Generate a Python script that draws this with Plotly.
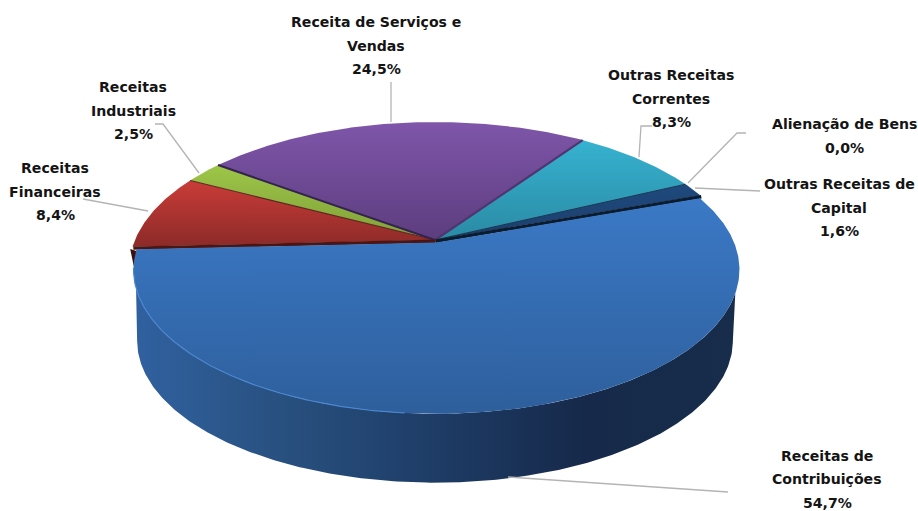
import numpy as np
import plotly.graph_objects as go

# ---- data ----
categories = ["Receitas de Contribuições", "Receitas Financeiras", "Receitas Industriais",
              "Receita de Serviços e Vendas", "Outras Receitas Correntes",
              "Alienação de Bens", "Outras Receitas de Capital"]
values = [54.7, 8.4, 2.5, 24.5, 8.3, 0.0, 1.6]
value_labels = ["54,7%", "8,4%", "2,5%", "24,5%", "8,3%", "0,0%", "1,6%"]
label_lines = [["Receitas de", "Contribuições"], ["Receitas", "Financeiras"], ["Receitas", "Industriais"],
               ["Receita de Serviços e", "Vendas"], ["Outras Receitas", "Correntes"],
               ["Alienação de Bens"], ["Outras Receitas de", "Capital"]]

# ---- styling / layout ----
W, H = 918, 511
top_colors = ["#3b79c6", "#c93c38", "#9dc648", "#7f56aa", "#36b2d0", "#1f497d", "#1f497d"]
bot_colors = ["#2e5f9c", "#8c2a28", "#7f9f38", "#5c3d7e", "#2a8aa4", "#1b3f6c", "#1b3f6c"]
wall_stops = [[0, "#30619f"], [0.25, "#28507f"], [0.5, "#1e3c66"], [0.75, "#16294a"], [1, "#172d4b"]]
label_pos = [(827, 455.5), (55, 168), (133, 87), (376, 22), (671, 75), (844, 124), (839, 184)]
line_gap = 23.5
leaders = [[(508, 477), (728, 492)],
           [(148, 211), (83, 199)],
           [(199, 173), (163, 124), (155, 124)],
           [(391, 122), (391, 82)],
           [(639, 157), (641, 126), (652, 126)],
           [(688, 183), (737, 133), (746, 133)],
           [(695, 188), (760, 191)]]
FONT = "DejaVu Sans"
FS = 14.1

# ---- projection ----
cx, cy, a, b, k = 435.0, 240.0, 300.0, 140.3, 0.189
start = -19.7
dep, shrink = 74.0, 0.975
blue_r = 0.992


def proj(th, r=1.0, base=False, off=(0, 0)):
    th = np.radians(th)
    X, Y = r * np.cos(th), r * np.sin(th)
    s = 1 / (1 - k * Y)
    sc = shrink if base else 1.0
    return (cx + off[0] + a * sc * X * s, cy + off[1] + (dep if base else 0) + b * sc * Y * s)


spans = np.array(values) / sum(values) * 360
bounds = start + np.concatenate([[0], np.cumsum(spans)])
fig = go.Figure()


def wedge(t0, t1, off=(0, 0), r=1.0):
    n = max(2, int(abs(t1 - t0) * 2))
    th = np.linspace(t0, t1, n)
    x, y = proj(th, r=r, off=off)
    ax, ay = proj(t0, r=0, off=off)
    return np.r_[ax, x, ax], np.r_[ay, y, ay]


blue_off = (1.5, 2.5)
mid_off = (0.75, 1.25)
# wall of the large slice: silhouette runs from the tangent points of the top face to those of the base
xt, yt = proj(np.linspace(20, 162, 300), r=blue_r, off=blue_off)
xb, yb = proj(np.linspace(169, 11, 300), base=True)
fig.add_trace(go.Scatter(x=np.r_[xt, xb], y=np.r_[yt, yb], mode="lines", fill="toself",
                         line=dict(width=0), fillgradient=dict(type="horizontal", colorscale=wall_stops),
                         hoverinfo="skip"))
# sliver of dark inner wall beside the red slice
xs0, ys0 = proj(bounds[1] - 0.5)
fig.add_trace(go.Scatter(x=[xs0 - 2, xs0 + 4, xs0 + 4], y=[ys0 + 1, ys0 + 3, ys0 + 30], mode="lines",
                         fill="toself", fillcolor="#3c0f0c", line=dict(width=0), hoverinfo="skip"))

# top faces
for i in [1, 2, 3, 4, 5, 6]:
    if values[i] <= 0:
        continue
    x, y = wedge(bounds[i], bounds[i + 1])
    fig.add_trace(go.Scatter(x=x, y=y, mode="lines", fill="toself", line=dict(width=0),
                             fillgradient=dict(type="vertical",
                                               colorscale=[[0, bot_colors[i]], [1, top_colors[i]]]),
                             name=categories[i], hoverinfo="skip"))

# dark dividers between slices
for t, col, w in [(bounds[2], "#5a2420", 1.2), (bounds[3], "#35234f", 2.0), (bounds[4], "#50356f", 2.2),
                  (bounds[6], "#16344f", 1.0)]:
    x0, y0 = proj(t, r=0)
    x1, y1 = proj(t)
    fig.add_trace(go.Scatter(x=[x0, x1], y=[y0, y1], mode="lines", line=dict(color=col, width=w), hoverinfo="skip"))

# shadowed gap along both edges of the large slice
for t, c, d in [(bounds[0], "#0b1c2e", 3.4), (bounds[1], "#4a1512", 3.4)]:
    x0, y0 = proj(t, r=0, off=mid_off)
    x1, y1 = proj(t, off=mid_off)
    fig.add_trace(go.Scatter(x=[x0, x1], y=[y0, y1], mode="lines", line=dict(color=c, width=d), hoverinfo="skip"))

# large slice top face
x, y = wedge(bounds[0], bounds[1], blue_off, blue_r)
fig.add_trace(go.Scatter(x=x, y=y, mode="lines", fill="toself", line=dict(width=0),
                         fillgradient=dict(type="vertical", colorscale=[[0, bot_colors[0]], [1, top_colors[0]]]),
                         name=categories[0], hoverinfo="skip"))

# light rim along the front-left of the large slice
xr, yr = proj(np.linspace(95, 170, 150), r=blue_r, off=blue_off)
fig.add_trace(go.Scatter(x=xr, y=yr, mode="lines", line=dict(color="#4a86d0", width=1.2), hoverinfo="skip"))

# leader lines
for pts in leaders:
    fig.add_trace(go.Scatter(x=[p[0] for p in pts], y=[p[1] for p in pts], mode="lines",
                             line=dict(color="#b4b4b4", width=1.3), hoverinfo="skip"))

# labels
for lines, val, (lx, ly) in zip(label_lines, value_labels, label_pos):
    for j, t in enumerate(lines + [val]):
        fig.add_annotation(x=lx, y=ly + j * line_gap, text=t, showarrow=False,
                           xanchor="center", yanchor="middle",
                           font=dict(family=FONT, size=FS, color="#141414", weight=700))

fig.update_layout(width=W, height=H, margin=dict(l=0, r=0, t=0, b=0), showlegend=False,
                  paper_bgcolor="white", plot_bgcolor="white",
                  xaxis=dict(range=[0, W], visible=False, fixedrange=True),
                  yaxis=dict(range=[H, 0], visible=False, fixedrange=True))
fig.write_html("out.html", config=dict(displayModeBar=False),
               post_script="document.body.style.margin='0';document.body.style.overflow='hidden';")
